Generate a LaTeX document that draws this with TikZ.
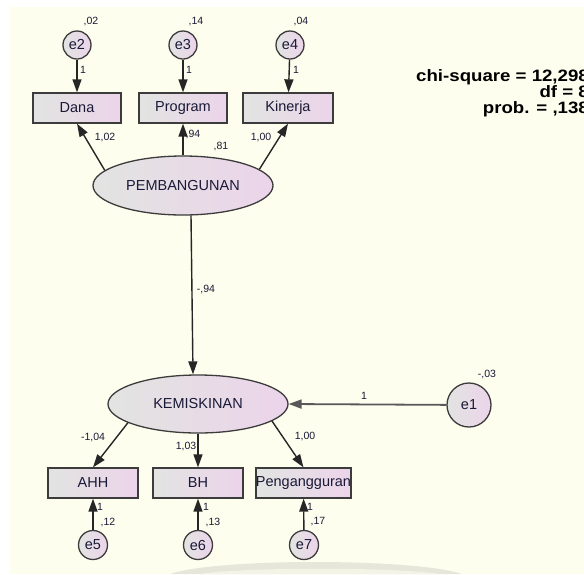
\documentclass[tikz,border=0pt]{standalone}
\usepackage{fontspec}
\setmainfont{Liberation Sans}
\usetikzlibrary{shapes.geometric,arrows.meta}
\definecolor{bg}{RGB}{254,254,238}
\definecolor{lc}{RGB}{60,60,60}
\definecolor{fl}{RGB}{226,228,226}
\definecolor{fr}{RGB}{236,212,234}
\definecolor{tx}{RGB}{25,25,55}
\definecolor{wm}{RGB}{230,230,218}
\begin{document}
\begin{tikzpicture}[x=1pt,y=-1pt,
  every node/.style={font=\fontsize{14.5}{16}\selectfont, text=tx},
  obs/.style={rectangle, draw=lc, line width=1.3pt, left color=fl, right color=fr, minimum width=88pt, minimum height=30pt, inner sep=0pt},
  lat/.style={ellipse, draw=lc, line width=1.3pt, left color=fl, right color=fr, minimum width=180pt, minimum height=58pt, inner sep=0pt},
  err/.style={circle, draw=lc, line width=1.3pt, left color=fl, right color=fr, minimum size=28pt, inner sep=0pt},
  arr/.style={draw=black!85, line width=1.4pt, -{Triangle[length=13pt,width=9pt]}},
  lbl/.style={font=\fontsize{10.5}{12}\selectfont, inner sep=0pt},
  fit/.style={font=\fontsize{16.5}{18}\selectfont\bfseries, text=black, inner sep=0pt, anchor=base east}]
\useasboundingbox (0,0) rectangle (584,574);
\fill[white] (0,0) rectangle (584,574);
\fill[bg] (10,7) rectangle (584,574);
% faint watermark at the bottom
\fill[wm] (170,574) .. controls (215,558) and (415,558) .. (462,574) -- cycle;
\fill[bg!60!wm] (200,574) .. controls (240,567) and (400,567) .. (438,574) -- cycle;

% nodes
\node[err] (e2) at (77,45) {e2};
\node[err] (e3) at (183,45) {e3};
\node[err] (e4) at (290,45) {e4};
\node[obs] (dana) at (77,108) {Dana};
\node[obs] (prog) at (183,108) {Program};
\node[obs, minimum width=90pt] (kin) at (288,108) {Kinerja};
\node[lat, minimum height=59pt] (pem) at (183,185.5) {PEMBANGUNAN};
\node[lat] (kem) at (198,404) {KEMISKINAN};
\node[err, minimum size=44pt] (e1) at (469,405) {e1};
\node[obs, minimum width=90pt] (ahh) at (93,483) {AHH};
\node[obs, minimum width=90pt] (bh) at (198,483) {BH};
\node[obs, minimum width=89pt] (peng) at (303.5,483) {Pengangguran};
\node[err, minimum size=29pt] (e5) at (93,545) {e5};
\node[err, minimum size=29pt] (e6) at (198,545) {e6};
\node[err, minimum size=29pt] (e7) at (304,545) {e7};

% connectors
\draw[arr] (e2) -- (dana);
\draw[arr] (e3) -- (prog);
\draw[arr] (e4) -- (kin);
\draw[arr] (pem.169) -- (dana.south);
\draw[arr] (pem.north) -- (prog.south);
\draw[arr] (pem.12) -- (kin.south);
\draw[arr] ([xshift=8pt]pem.south) -- ([xshift=-5pt]kem.north);
\draw[arr, draw=black!65, line width=1.8pt] (e1) -- (kem.east);
\draw[arr] (kem.195) -- (ahh.north);
\draw[arr] (kem.south) -- (bh.north);
\draw[arr] (kem.347) -- (peng.north);
\draw[arr] (e5) -- (ahh);
\draw[arr] (e6) -- (bh);
\draw[arr] (e7) -- (peng);

% labels
\node[lbl] (l02) at (91,22) {,02};
\node[lbl] (l14) at (196,22) {,14};
\node[lbl] (l04) at (301,22) {,04};
\node[lbl] (o2) at (83,70) {1};
\node[lbl] (o3) at (189,70) {1};
\node[lbl] (o4) at (296,70) {1};
\node[lbl] (l102) at (105,138) {1,02};
\node[lbl] (l94) at (193,135) {,94};
\node[lbl] (l81) at (221,147) {,81};
\node[lbl] (l100a) at (261,138) {1,00};
\node[lbl] (lm94) at (206,289) {-,94};
\node[lbl] (lm03) at (487,374) {-,03};
\node[lbl] (o1) at (364,396) {1};
\node[lbl] (lm104) at (93,437) {-1,04};
\node[lbl] (l103) at (186,446) {1,03};
\node[lbl] (l100b) at (305,436) {1,00};
\node[lbl] (o5) at (100,507) {1};
\node[lbl] (o6) at (206,507) {1};
\node[lbl] (o7) at (310,507) {1};
\node[lbl] (l12) at (108,522) {,12};
\node[lbl] (l13) at (213,522) {,13};
\node[lbl] (l17) at (318,522) {,17};

% fit statistics
\node[fit] (chi) at (589,81) {\scalebox{1.13}[1]{chi-square = 12,298}};
\node[fit] (df) at (589,97.5) {\scalebox{1.13}[1]{df = 8}};
\node[fit] (prob) at (589,113.5) {\scalebox{1.13}[1]{prob. = ,138}};
\end{tikzpicture}
\end{document}
